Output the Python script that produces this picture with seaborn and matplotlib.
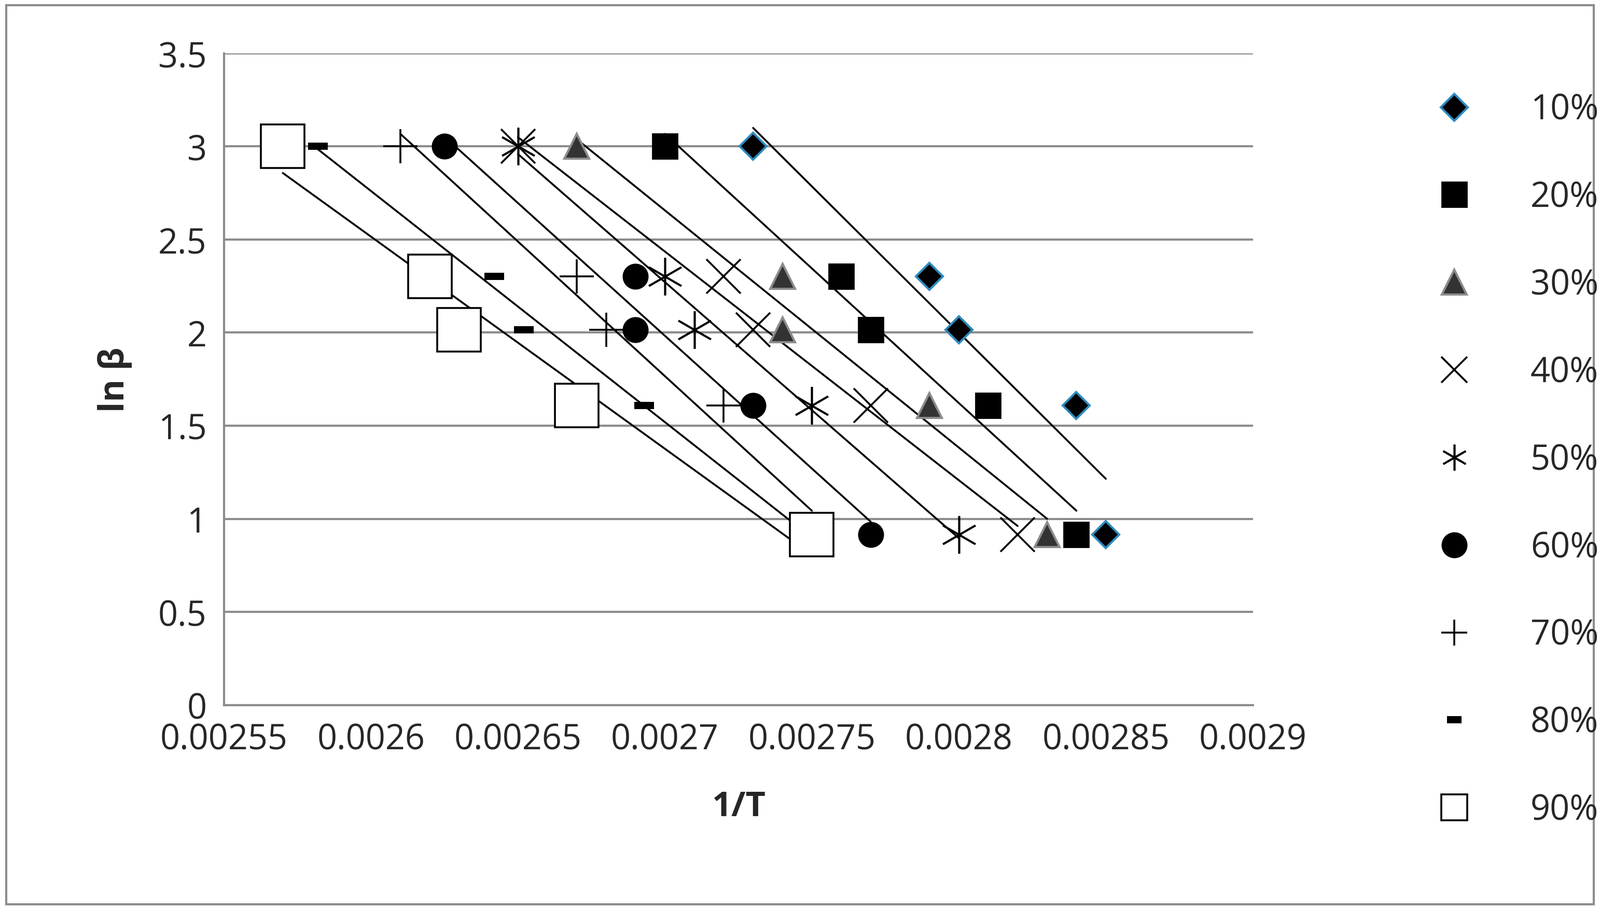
import numpy as np
import pandas as pd
import matplotlib
matplotlib.use("Agg")
import matplotlib.pyplot as plt
import seaborn as sns
from matplotlib.lines import Line2D

sns.set_style("white")
plt.rcParams['font.family'] = ['Open Sans', 'DejaVu Sans']

ln_beta = [3.0, 2.303, 2.015, 1.609, 0.916]
labels = ['10%', '20%', '30%', '40%', '50%', '60%', '70%', '80%', '90%']
x10 = [0.00273, 0.00279, 0.00280, 0.00284, 0.00285]
x20 = [0.00270, 0.00276, 0.00277, 0.00281, 0.00284]
x30 = [0.00267, 0.00274, 0.00274, 0.00279, 0.00283]
x40 = [0.00265, 0.00272, 0.00273, 0.00277, 0.00282]
x50 = [0.00265, 0.00270, 0.00271, 0.00275, 0.00280]
x60 = [0.002625, 0.00269, 0.00269, 0.00273, 0.00277]
x70 = [0.00261, 0.00267, 0.00268, 0.00272, 0.00275]
x80 = [0.002582, 0.002642, 0.002652, 0.002693, 0.00275]
x90 = [0.00257, 0.00262, 0.00263, 0.00267, 0.00275]
series = [x10, x20, x30, x40, x50, x60, x70, x80, x90]

styles = [
    dict(marker='D', ms=13, mfc='black', mec='#2e8bc0', mew=1.5),
    dict(marker='s', ms=17, mfc='black', mec='black', mew=1),
    dict(marker='^', ms=17, mfc='#333333', mec='#8c8c8c', mew=1.5),
    dict(marker='x', ms=24, mfc='none', mec='black', mew=1.3),
    dict(marker=(6, 2, 0), ms=26, mfc='none', mec='black', mew=1.3),
    dict(marker='o', ms=17, mfc='black', mec='black', mew=1),
    dict(marker='+', ms=24, mfc='none', mec='black', mew=1.3),
    dict(marker='s', ms=1, mfc='black', mec='black', mew=0),
    dict(marker='s', ms=30, mfc='white', mec='black', mew=1.3),
]

fig = plt.figure(figsize=(15.425, 8.78), dpi=200)
ax = fig.add_axes([0.14, 0.225, 0.643, 0.716])

for xs, lab, st in zip(series, labels, styles):
    df = pd.DataFrame({'x': xs, 'y': ln_beta})
    sns.regplot(data=df, x='x', y='y', ax=ax, ci=None, scatter=False,
                line_kws=dict(color='black', lw=1.3))
    if lab == '80%':
        ax.plot(xs, ln_beta, linestyle='none', marker='_', ms=14, mew=5,
                color='black', zorder=3)
    else:
        ax.plot(xs, ln_beta, linestyle='none', zorder=3, **st)

ax.set_xlim(0.00255, 0.0029)
ax.set_ylim(0, 3.5)
ax.set_xticks(np.arange(0.00255, 0.00291, 0.00005))
ax.set_xticklabels(['0.00255', '0.0026', '0.00265', '0.0027', '0.00275',
                    '0.0028', '0.00285', '0.0029'])
ax.set_yticks(np.arange(0, 3.51, 0.5))
ax.set_yticklabels(['0', '0.5', '1', '1.5', '2', '2.5', '3', '3.5'])
ax.tick_params(labelsize=24, length=0, pad=12)
ax.yaxis.grid(True, color='#8c8c8c', lw=1.5)
for s in ['top', 'right']:
    ax.spines[s].set_visible(False)
ax.spines['left'].set_color('#8c8c8c')
ax.spines['bottom'].set_color('#8c8c8c')
ax.spines['left'].set_linewidth(1.5)
ax.spines['bottom'].set_linewidth(1.5)
ax.set_xlabel('1/T', fontsize=24, fontweight='bold', labelpad=22)
ax.set_ylabel('ln β', fontsize=24, fontweight='bold', labelpad=18)

handles = []
for lab, st in zip(labels, styles):
    if lab == '80%':
        handles.append(Line2D([], [], linestyle='none', marker='_', ms=10,
                              mew=5, color='black', label=lab))
    else:
        s = dict(st)
        s['ms'] = min(s['ms'], 18)
        handles.append(Line2D([], [], linestyle='none', label=lab, **s))
fig.legend(handles=handles, loc='upper left', bbox_to_anchor=(0.868, 0.932),
           frameon=False, fontsize=24, labelspacing=1.52, handletextpad=1.2)

fig.patches.append(plt.Rectangle((0.004, 0.006), 0.992, 0.988,
                                 transform=fig.transFigure, fill=False,
                                 edgecolor='#8c8c8c', lw=1.5))
fig.savefig('out.png', dpi=200)
